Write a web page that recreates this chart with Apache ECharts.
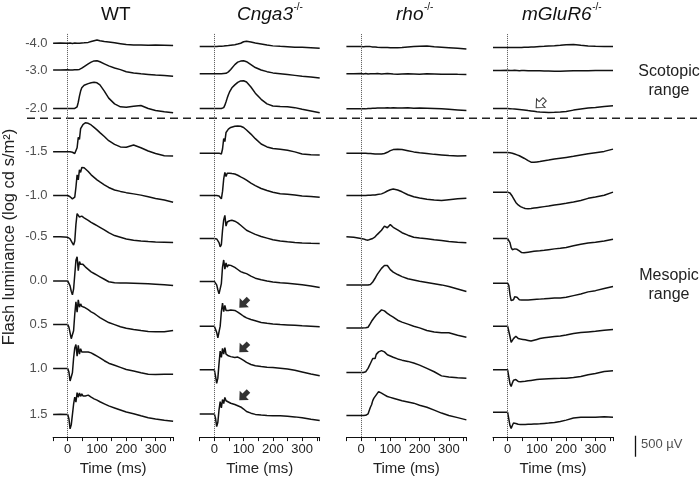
<!DOCTYPE html>
<html><head><meta charset="utf-8">
<script src="https://cdn.jsdelivr.net/npm/echarts@6/dist/echarts.min.js"></script>
<style>html,body{margin:0;padding:0;background:#fff}#c{width:700px;height:481px}</style>
</head><body><div id="c"></div>
<script>
// ---------------- data ----------------
const timeMs = [-50,-25,0,4,8,12,16,20,24,28,32,36,40,44,48,52,56,60,70,80,90,100,110,125,140,160,180,200,225,250,275,300,330,360];
const rowLabels = ['-4.0','-3.0','-2.0','-1.5','-1.0','-0.5','0.0','0.5','1.0','1.5'];
const panelNames = ['WT','Cnga3','rho','mGluR6'];
const panelSup = ['', '-/-', '-/-', '-/-'];
const xTickValues = [0,100,200,300];

// traces in µV (one array per flash luminance row, same order as rowLabels)
const wtUv = [
 [0,5,0,0,5,0,-5,0,5,0,0,5,0,5,5,10,10,15,20,40,60,80,60,40,30,10,-10,-30,-40,-40,-50,-45,-50,-55],
 [0,0,5,0,0,5,0,0,5,0,5,10,15,30,45,65,85,105,150,190,220,225,200,150,100,50,10,-40,-72,-90,-105,-120,-135,-150],
 [0,0,0,0,0,0,0,0,0,10,40,150,300,420,500,540,560,575,600,620,632,620,570,420,250,110,40,30,55,70,0,-50,-80,-105],
 [0,5,0,0,0,-5,-10,-20,-40,-60,100,350,300,560,520,660,690,704,690,650,590,530,465,370,270,180,120,110,165,100,20,-40,-95,-100],
 [0,0,0,-10,-30,-60,-80,-70,-40,200,500,380,620,560,680,640,670,650,580,500,440,380,330,260,195,135,100,70,40,10,-30,-70,-110,-160],
 [0,0,-10,-30,-50,-80,-150,-200,-100,300,560,600,480,520,500,480,460,440,400,350,310,270,230,170,100,30,-10,-50,-80,-100,-115,-125,-130,-136],
 [0,0,0,-40,-120,-250,-336,-200,150,500,584,250,470,400,430,400,370,340,280,220,180,140,100,40,-20,-45,-50,-50,-55,-60,-70,-80,-95,-112],
 [0,0,0,-60,-200,-340,-360,-150,250,550,300,600,420,500,440,460,420,400,360,310,270,220,170,110,50,0,-50,-90,-120,-145,-165,-175,-170,-145],
 [0,0,0,-80,-300,-330,-100,250,500,580,300,560,350,480,400,440,400,420,400,380,340,300,260,190,130,80,30,-20,-60,-100,-135,-145,-135,-136],
 [0,5,0,-100,-344,-250,0,250,420,300,530,420,520,440,500,450,490,450,470,420,380,350,310,260,210,160,110,60,20,-30,-75,-105,-140,-160]
];
const cnga3Uv = [
 [-80,-80,-80,-80,-78,-78,-75,-75,-72,-70,-68,-66,-62,-60,-56,-52,-48,-45,-35,-20,0,35,45,30,5,-20,-45,-64,-75,-85,-95,-100,-110,-120],
 [-89,-89,-89,-89,-89,-89,-89,-89,-89,-89,-84,-79,-79,-64,-44,-19,11,47,131,191,216,223,201,131,61,1,-39,-69,-89,-109,-129,-149,-169,-193],
 [0,0,0,0,0,0,0,0,0,0,20,80,160,250,330,400,450,500,570,630,665,670,640,520,370,220,110,60,45,40,20,-20,-60,-104],
 [-31,-31,-31,-31,-31,-31,-31,-41,-51,69,319,249,469,429,549,569,589,599,619,625,619,589,529,429,319,189,119,79,64,39,-1,-51,-71,-79],
 [0,0,0,0,0,0,-10,-40,-80,100,400,560,460,540,500,540,520,530,520,490,450,416,370,300,240,170,120,80,45,30,10,-10,-25,-40],
 [-41,-41,-41,-41,-51,-71,-141,-241,-191,159,409,519,259,359,379,389,399,399,379,339,279,219,159,109,59,9,-31,-71,-101,-121,-136,-146,-156,-161],
 [-14,-14,-14,-34,-94,-214,-314,-334,-64,336,506,286,436,336,386,366,376,370,326,276,226,196,176,116,66,26,-4,-24,-44,-59,-74,-94,-124,-158],
 [-38,-38,-38,-78,-188,-318,-288,-38,312,522,312,462,342,382,342,342,352,362,342,302,252,202,162,122,92,52,32,17,2,-8,-18,-28,-38,-54],
 [-31,-31,-31,-181,-359,-231,119,425,269,489,349,505,349,319,309,299,289,279,269,279,239,199,149,99,69,49,34,24,9,-11,-41,-81,-131,-175],
 [14,14,14,-86,-290,-186,114,314,164,364,264,414,334,314,304,284,274,264,244,214,184,134,74,34,4,-11,-21,-26,-31,-41,-56,-76,-116,-146]
];
const rhoUv = [
 [-82,-77,-82,-82,-87,-82,-82,-87,-82,-87,-82,-87,-92,-92,-92,-97,-97,-97,-102,-102,-102,-107,-107,-107,-102,-92,-82,-72,-67,-87,-97,-107,-122,-138],
 [-89,-89,-84,-89,-94,-89,-84,-89,-94,-89,-89,-84,-89,-94,-89,-89,-84,-89,-94,-89,-84,-89,-94,-99,-94,-89,-94,-99,-89,-94,-99,-99,-104,-105],
 [-10,-10,-10,-5,-10,-5,-10,-5,0,-5,0,0,5,0,5,5,10,5,10,10,15,10,15,10,10,15,5,10,5,0,-10,-20,-35,-50],
 [-31,-31,-31,-31,-31,-31,-36,-36,-41,-41,-41,-46,-46,-46,-51,-51,-51,-56,-51,-41,-11,29,54,65,59,29,-1,-21,-41,-61,-76,-91,-101,-95],
 [0,0,0,0,0,0,0,0,5,0,5,5,10,10,15,20,25,30,40,70,110,140,160,135,90,20,-30,-60,-90,-110,-120,-100,-80,-64],
 [0,-10,-40,-40,-50,-60,-70,-75,-80,-70,-60,-50,-40,-20,0,30,60,80,160,260,220,296,230,170,100,40,-10,-30,-45,-70,-90,-110,-130,-144],
 [-96,-96,-96,-96,-96,-96,-96,-96,-96,-96,-86,-56,-26,14,64,114,164,204,304,374,374,274,214,154,104,54,24,-6,-36,-66,-96,-136,-196,-256],
 [-79,-79,-79,-79,-79,-79,-74,-74,-64,-19,31,81,121,161,201,231,261,286,356,331,271,221,181,106,61,11,-39,-79,-144,-179,-199,-199,-259,-303],
 [-96,-96,-96,-96,-96,-96,-76,-56,4,64,124,184,244,284,244,344,304,404,434,404,334,304,274,234,204,174,134,84,4,-76,-176,-206,-221,-232],
 [-24,-24,-24,-24,-24,-24,-19,-14,16,96,176,236,336,396,356,476,436,556,516,476,436,416,396,366,336,306,276,226,176,106,36,-24,-74,-128]
];
const mglur6Uv = [
 [-106,-106,-106,-106,-106,-106,-106,-106,-106,-101,-101,-101,-101,-101,-101,-96,-96,-96,-96,-91,-91,-86,-81,-76,-66,-61,-51,-36,-31,-51,-66,-76,-81,-82],
 [-10,-10,-5,-10,-10,-15,-10,-10,-5,-10,-10,-10,-15,-10,-10,-5,-10,-10,-15,-15,-20,-20,-20,-25,-25,-30,-30,-25,-20,-15,-15,-10,-10,-10],
 [0,0,0,0,-5,-5,-10,-10,-15,-15,-20,-20,-25,-25,-30,-35,-35,-40,-50,-60,-70,-80,-85,-90,-95,-92,-85,-72,-40,-15,10,25,45,64],
 [-14,-14,-14,-19,-24,-29,-34,-44,-54,-64,-74,-84,-94,-109,-124,-139,-154,-169,-214,-249,-254,-244,-234,-214,-199,-174,-154,-134,-109,-74,-44,-19,11,66],
 [82,82,82,82,62,22,-18,-58,-118,-168,-208,-228,-248,-268,-278,-293,-303,-313,-318,-313,-303,-293,-283,-268,-253,-228,-208,-188,-158,-118,-68,-38,5,82],
 [-41,-41,-41,-61,-141,-261,-311,-321,-291,-265,-301,-321,-341,-361,-381,-385,-385,-381,-371,-361,-351,-341,-336,-326,-311,-291,-276,-256,-216,-181,-151,-131,-101,-57],
 [-55,-55,-55,-105,-335,-475,-495,-455,-385,-375,-395,-425,-455,-460,-463,-463,-463,-463,-460,-455,-450,-445,-440,-433,-425,-415,-410,-395,-355,-315,-265,-235,-185,-135],
 [-38,-38,-38,-78,-288,-428,-408,-338,-298,-283,-298,-334,-343,-348,-353,-358,-363,-368,-383,-398,-378,-358,-338,-318,-303,-288,-273,-253,-213,-193,-178,-163,-138,-118],
 [-31,-31,-31,-61,-371,-431,-351,-281,-256,-266,-291,-311,-316,-316,-313,-311,-309,-306,-296,-286,-276,-266,-256,-249,-243,-239,-236,-231,-215,-191,-151,-121,-71,-55],
 [55,55,55,25,-265,-335,-265,-205,-190,-215,-230,-235,-237,-240,-241,-241,-240,-239,-235,-233,-230,-227,-225,-215,-205,-190,-170,-135,-85,-65,-63,-65,-53,-65]
];
const panelTraces = [wtUv, cnga3Uv, rhoUv, mglur6Uv];

// arrow annotations (time in ms, µV above the row's baseline)
const filledArrowRows = [7, 8, 9];
const filledArrowTimeMs = [101, 101, 101];
const filledArrowUv = [520, 504, 456];
const openArrowRow = 2;
const openArrowTimeMs = 112;
const openArrowUv = 120;
const scaleBarUv = 500;
const scaleBarLabel = '500 µV';

// ---------------- layout ----------------
const FONT = 'Liberation Sans, Arial, Helvetica, sans-serif';
const PANEL_LEFTS = [53.1, 199.7, 346.4, 493.0];
const PANEL_W = 120;
const GRID_TOP = 33, AXIS_Y = 440;
const UV_PER_PX = 24;
const Y_MAX = (AXIS_Y - GRID_TOP) * UV_PER_PX;
const rowPixelY = [43.3,70.3,109,152.7,196.7,238.3,282.7,326.7,371,417.3];
const rowOffsetUv = rowPixelY.map(y => (AXIS_Y - y) * UV_PER_PX);
const dashPixelY = 118.3;
const ARROW = 'path://M6,0 L12,6.5 L8.3,6.5 L8.3,12 L3.7,12 L3.7,6.5 L0,6.5 Z';
const CLEAR = 'rgba(0,0,0,0)';

const grids = [], xAxes = [], yAxes = [], series = [];
PANEL_LEFTS.forEach((left, p) => {
  grids.push({left: left, top: GRID_TOP, width: PANEL_W, height: AXIS_Y - GRID_TOP});
  xAxes.push({
    gridIndex: p, type: 'value', min: -50, max: 360, interval: 50,
    axisLine: {show: true, onZero: false, lineStyle: {color: '#111', width: 1}},
    axisTick: {show: true, length: 4, lineStyle: {color: '#111', width: 1}},
    axisLabel: {formatter: v => (xTickValues.indexOf(v) >= 0 ? String(v) : ''), fontSize: 13, color: '#222', margin: 6, fontFamily: FONT},
    splitLine: {show: false},
    name: 'Time (ms)', nameLocation: 'middle', nameGap: 23,
    nameTextStyle: {fontSize: 15, color: '#222', fontFamily: FONT}
  });
  yAxes.push({gridIndex: p, type: 'value', min: 0, max: Y_MAX, show: false});
  panelTraces[p].forEach((trace, r) => {
    const s = {
      type: 'line', xAxisIndex: p, yAxisIndex: p, showSymbol: false, symbol: 'none',
      silent: true, animation: false, clip: false,
      lineStyle: {color: '#111', width: 1.5},
      data: timeMs.map((t, i) => [t, rowOffsetUv[r] + trace[i]])
    };
    if (r === 0) {
      s.markLine = {silent: true, symbol: ['none', 'none'], label: {show: false}, animation: false,
        lineStyle: {type: 'dotted', color: '#555', width: 1}, data: [{xAxis: 0}]};
    }
    series.push(s);
  });
});

// row labels
series.push({
  type: 'scatter', xAxisIndex: 0, yAxisIndex: 0, symbolSize: 1, itemStyle: {color: CLEAR}, silent: true, clip: false,
  data: rowOffsetUv.map((v, i) => ({value: [-50, v], label: {show: true, formatter: rowLabels[i]}})),
  label: {show: true, position: 'left', distance: 5, fontSize: 13, color: '#222', fontFamily: FONT}
});
// filled arrows
series.push({
  type: 'scatter', xAxisIndex: 1, yAxisIndex: 1, symbol: ARROW, symbolSize: 13, symbolRotate: 135, silent: true,
  itemStyle: {color: '#000'},
  data: filledArrowRows.map((r, i) => [filledArrowTimeMs[i], rowOffsetUv[r] + filledArrowUv[i]])
});
// open arrow
series.push({
  type: 'scatter', xAxisIndex: 3, yAxisIndex: 3, symbol: ARROW, symbolSize: 12, symbolRotate: 135, silent: true,
  itemStyle: {color: '#fff', borderColor: '#000', borderWidth: 1},
  data: [[openArrowTimeMs, rowOffsetUv[openArrowRow] + openArrowUv]]
});

// dashed separator grid (4)
grids.push({left: 27, top: GRID_TOP, width: 670, height: AXIS_Y - GRID_TOP});
xAxes.push({gridIndex: 4, type: 'value', min: 0, max: 1, show: false});
yAxes.push({gridIndex: 4, type: 'value', min: 0, max: Y_MAX, show: false});
const dashUv = (AXIS_Y - dashPixelY) * UV_PER_PX;
series.push({type: 'line', xAxisIndex: 4, yAxisIndex: 4, showSymbol: false, silent: true,
  lineStyle: {color: '#222', width: 1.4, type: [8, 5]}, data: [[0, dashUv], [1, dashUv]]});

// scale bar grid (5)
const barH = scaleBarUv / UV_PER_PX;
grids.push({left: 630, top: 456.7 - barH, width: 11, height: barH});
xAxes.push({gridIndex: 5, type: 'value', min: 0, max: 1, show: false});
yAxes.push({gridIndex: 5, type: 'value', min: 0, max: scaleBarUv, show: false});
series.push({type: 'line', xAxisIndex: 5, yAxisIndex: 5, showSymbol: false, silent: true, clip: false,
  lineStyle: {color: '#111', width: 1.3},
  data: [[0.5, 0], [0.5, scaleBarUv]]
});
series.push({type: 'scatter', xAxisIndex: 5, yAxisIndex: 5, symbolSize: 1, itemStyle: {color: CLEAR}, silent: true, clip: false,
  data: [[0.5, scaleBarUv * 0.58]],
  label: {show: true, formatter: scaleBarLabel, position: 'right', distance: 5, fontSize: 13, color: '#222', fontFamily: FONT}
});

// text
const mctx = document.createElement('canvas').getContext('2d');
const titleLefts = [101, 237, 396, 522];
const graphics = [];
panelNames.forEach((name, p) => {
  const italic = p > 0;
  const fs = 19;
  mctx.font = (italic ? 'italic ' : '') + fs + 'px ' + FONT;
  const w = mctx.measureText(name).width;
  graphics.push({type: 'text', x: titleLefts[p], y: 5, silent: true,
    style: {text: name, fontSize: fs, fontStyle: italic ? 'italic' : 'normal', fontFamily: FONT, fill: '#111'}});
  if (panelSup[p]) {
    graphics.push({type: 'text', x: titleLefts[p] + w + 0.5, y: 2, silent: true,
      style: {text: panelSup[p], fontSize: 10, fontFamily: FONT, fill: '#111'}});
  }
});
graphics.push({type: 'text', x: 669, y: 62, silent: true,
  style: {text: 'Scotopic\nrange', align: 'center', fontSize: 16, lineHeight: 19, fontFamily: FONT, fill: '#222'}});
graphics.push({type: 'text', x: 669, y: 266, silent: true,
  style: {text: 'Mesopic\nrange', align: 'center', fontSize: 16, lineHeight: 19, fontFamily: FONT, fill: '#222'}});
graphics.push({type: 'text', x: 9, y: 237, rotation: Math.PI / 2, silent: true,
  style: {text: 'Flash luminance (log cd s/m²)', align: 'center', verticalAlign: 'middle', fontSize: 16.5, fontFamily: FONT, fill: '#222'}});

const chart = echarts.init(document.getElementById('c'), null, {renderer: 'canvas', width: 700, height: 481});
chart.setOption({
  animation: false,
  backgroundColor: '#fff',
  grid: grids, xAxis: xAxes, yAxis: yAxes, series: series, graphic: graphics
});
</script></body></html>
